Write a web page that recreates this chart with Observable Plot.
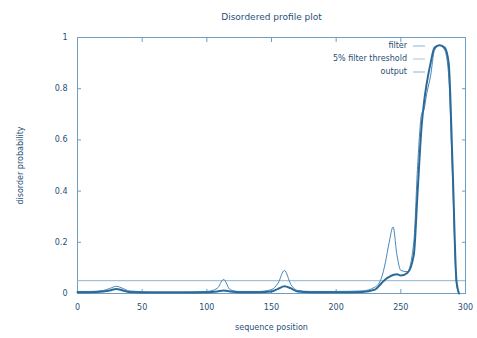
<!DOCTYPE html>
<html><head><meta charset="utf-8">
<script src="https://cdn.jsdelivr.net/npm/d3@7"></script>
<script src="https://cdn.jsdelivr.net/npm/@observablehq/plot@0.6"></script>
<style>
body{margin:0;background:#fff;font-family:"DejaVu Sans",sans-serif;}
#wrap{position:relative;width:477px;height:338px;}
#legend{position:absolute;right:52px;top:39px;font-size:8px;color:#1f4f78;text-align:right;line-height:13px;}
#legend div{display:flex;justify-content:flex-end;align-items:center;}
#legend svg{margin-left:6px;}
</style></head><body>
<div id="wrap"><div id="chart"></div>
<div id="legend">
<div>filter<svg width="12" height="6"><line x1="0" y1="3" x2="12" y2="3" stroke="#8fb3cf" stroke-width="1"/></svg></div>
<div>5% filter threshold<svg width="12" height="6"><line x1="0" y1="3" x2="12" y2="3" stroke="#a9c5dc" stroke-width="1"/></svg></div>
<div>output<svg width="12" height="6"><line x1="0" y1="3" x2="12" y2="3" stroke="#8fb3cf" stroke-width="1"/></svg></div>
</div></div>
<script>
const title = "Disordered profile plot";
const xLabel = "sequence position";
const yLabel = "disorder probability";
const xTicks = [0, 50, 100, 150, 200, 250, 300];
const yTicks = [0, 0.2, 0.4, 0.6, 0.8, 1];
const threshold = 0.05;
const positions = [0,10,20,25,30,35,40,60,80,100,108,113,118,125,140,150,155,160,165,170,180,200,220,230,235,238,241,244,247,250,255,260,263,266,268,270,273,276,280,284,287,290,293,295];
const outputVals = [0.005,0.005,0.008,0.012,0.018,0.012,0.006,0.004,0.004,0.005,0.008,0.012,0.008,0.005,0.005,0.008,0.018,0.028,0.02,0.008,0.005,0.005,0.006,0.015,0.04,0.055,0.065,0.072,0.075,0.07,0.08,0.15,0.4,0.65,0.75,0.82,0.9,0.96,0.97,0.96,0.9,0.5,0.05,0.0];
const filterVals = [0.008,0.008,0.012,0.02,0.028,0.02,0.01,0.006,0.006,0.008,0.02,0.055,0.015,0.008,0.008,0.015,0.04,0.09,0.035,0.012,0.008,0.008,0.01,0.025,0.06,0.12,0.2,0.26,0.15,0.09,0.085,0.2,0.5,0.7,0.72,0.78,0.85,0.95,0.97,0.95,0.85,0.45,0.04,0.0];
const data = positions.map((p, i) => ({pos: p, output: outputVals[i], filter: filterVals[i]}));
const ink = "#1f4f78";
const chart = Plot.plot({
  width: 477, height: 338,
  marginLeft: 77, marginRight: 12, marginTop: 37, marginBottom: 45,
  style: {fontFamily: "DejaVu Sans, sans-serif", fontSize: "8px", color: ink},
  x: {domain: [0, 300]},
  y: {domain: [0, 1]},
  marks: [
    Plot.frame({stroke: "#6f9ec4"}),
    Plot.axisX({ticks: xTicks, tickSize: -4, tickPadding: 15, label: xLabel, labelAnchor: "center", labelOffset: 36, labelArrow: "none", stroke: "#6f9ec4"}),
    Plot.axisX({anchor: "top", ticks: xTicks, tickSize: -4, tickFormat: () => "", label: null, stroke: "#6f9ec4"}),
    Plot.axisY({ticks: yTicks, tickSize: -4, tickPadding: 14, tickFormat: d => d === 0 ? "0" : String(d), label: yLabel, labelAnchor: "center", labelOffset: 60, labelArrow: "none", stroke: "#6f9ec4"}),
    Plot.axisY({anchor: "right", ticks: yTicks, tickSize: -4, tickFormat: () => "", label: null, stroke: "#6f9ec4"}),
    Plot.ruleY([threshold], {stroke: "#8fb3cf", strokeWidth: 1}),
    Plot.lineY(data, {x: "pos", y: "filter", stroke: "#4a86b8", strokeWidth: 1, curve: "monotone-x"}),
    Plot.lineY(data, {x: "pos", y: "output", stroke: "#2b6a98", strokeWidth: 2, curve: "monotone-x"}),
    Plot.text([title], {frameAnchor: "top", dy: -24, fontSize: 9, fill: ink})
  ]
});
document.getElementById("chart").appendChild(chart);
</script></body></html>
